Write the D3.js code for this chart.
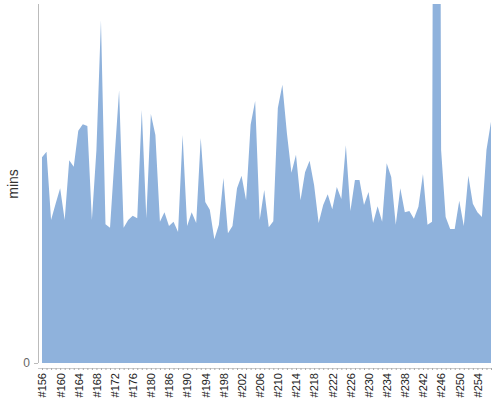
<!DOCTYPE html>
<html>
<head>
<meta charset="utf-8">
<script src="https://cdn.jsdelivr.net/npm/d3@7"></script>
<style>
  html, body { margin: 0; padding: 0; background: #fff; }
  svg { display: block; font-family: "Liberation Sans", Arial, sans-serif; }
</style>
</head>
<body>
<svg id="chart" width="500" height="400"></svg>
<script>
// Build numbers (x categories)
const builds = [
  "#156","#157","#158","#159","#160","#161","#162","#163","#164","#165",
  "#166","#167","#168","#169","#170","#171","#172","#173","#174","#175",
  "#176","#177","#178","#179","#180","#181","#182","#185","#186","#187",
  "#188","#189","#190","#191","#192","#193","#194","#195","#196","#197",
  "#198","#199","#200","#201","#202","#203","#204","#205","#206","#207",
  "#208","#209","#210","#211","#212","#213","#214","#215","#216","#217",
  "#218","#219","#220","#221","#222","#223","#224","#225","#226","#227",
  "#228","#229","#230","#231","#232","#233","#234","#235","#236","#237",
  "#238","#239","#240","#241","#242","#243","#244","#245","#246","#247",
  "#248","#249","#250","#251","#252","#253","#254","#255","#256","#257"
];
// Duration in minutes
const minutes = [
  34.4, 35.3, 23.9, 26.6, 29.2, 23.9, 33.9, 32.8, 38.8, 39.9,
  39.6, 23.9, 35.6, 57.3, 23.2, 22.6, 34.3, 45.6, 22.6, 23.9,
  24.6, 24.2, 42.3, 24.2, 41.6, 38.1, 23.6, 25.2, 22.9, 23.6,
  21.9, 38.1, 22.9, 25.2, 23.4, 37.6, 26.9, 25.6, 20.7, 23.1,
  30.9, 21.7, 22.9, 29.2, 31.3, 27.2, 39.8, 43.8, 23.9, 28.9,
  22.7, 23.7, 42.6, 46.5, 38.4, 31.8, 34.8, 27.2, 31.9, 33.8,
  29.7, 23.4, 26.4, 28.2, 25.7, 29.4, 27.4, 36.4, 25.4, 30.6,
  30.6, 26.4, 28.6, 23.4, 26.2, 23.6, 33.4, 31.1, 23.1, 29.2,
  25.2, 25.4, 24.1, 26.1, 31.6, 23.1, 23.6, 300, 35.6, 24.4,
  22.4, 22.4, 27.1, 22.9, 31.3, 26.6, 25.2, 24.4, 35.6, 40.3
];
const yTicks = [0];
const yLabel = "mins";

const svg = d3.select("#chart");
const mLeft = 42, mRight = 491, mTop = 4, mBottom = 363;

const x = d3.scalePoint().domain(builds).range([mLeft, mRight]);
const y = d3.scaleLinear().domain([0, 60]).range([mBottom, mTop]);

svg.append("defs").append("clipPath").attr("id", "clip")
  .append("rect").attr("x", mLeft).attr("y", mTop)
  .attr("width", mRight - mLeft).attr("height", mBottom - mTop);

const area = d3.area()
  .x((d, i) => x(builds[i]))
  .y0(y(0))
  .y1(d => y(d));

svg.append("path")
  .datum(minutes)
  .attr("clip-path", "url(#clip)")
  .attr("fill", "#8fb2dc")
  .attr("d", area);

// Y axis
const yAxis = svg.append("g")
  .attr("transform", "translate(38,0)")
  .call(d3.axisLeft(y).tickValues(yTicks).tickSize(4).tickSizeOuter(0).tickPadding(4));
yAxis.select(".domain").attr("stroke", "#bbbbbb").attr("d", `M0.5,${mTop}V${mBottom}`);
yAxis.selectAll(".tick line").attr("stroke", "#bbbbbb");
yAxis.selectAll(".tick text").attr("fill", "#666").style("font-size", "12px");

svg.append("text")
  .attr("transform", "translate(18,184) rotate(-90)")
  .attr("text-anchor", "middle")
  .attr("fill", "#333")
  .style("font-size", "14px")
  .text(yLabel);

// X axis
const xAxis = svg.append("g")
  .attr("transform", "translate(0,368)")
  .call(d3.axisBottom(x).tickSize(2).tickSizeOuter(0)
    .tickFormat((d, i) => i % 4 === 0 ? d : ""));
xAxis.select(".domain").attr("stroke", "#cccccc").attr("d", `M${mLeft - 4},0.5H${mRight}`);
xAxis.selectAll(".tick line").attr("stroke", "#aaaaaa");
xAxis.selectAll(".tick text")
  .attr("fill", "#222")
  .style("font-size", "11px")
  .attr("text-anchor", "end")
  .attr("transform", "translate(0,5) rotate(-90)")
  .attr("x", 0).attr("y", 0).attr("dx", 0).attr("dy", "0.35em");
</script>
</body>
</html>
